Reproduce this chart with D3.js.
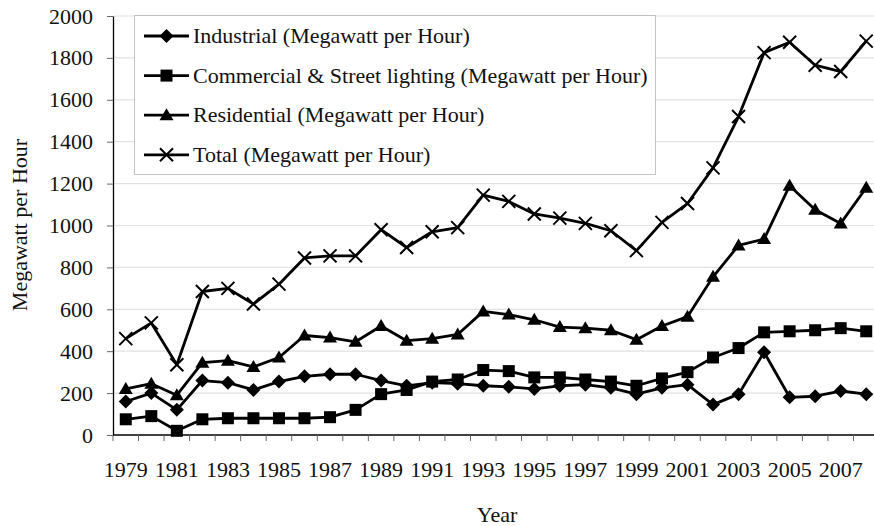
<!DOCTYPE html>
<html>
<head>
<meta charset="utf-8">
<script src="https://cdn.jsdelivr.net/npm/d3@7"></script>
<style>
  body { margin: 0; background: #fff; }
  svg { display: block; }
  text { font-family: "Liberation Serif", "Times New Roman", serif; fill: #111; }
</style>
</head>
<body>
<script>
// 年 (1979-2008)
const years = d3.range(1979, 2009);

// 各系列の値 (Megawatt per Hour)
const industrial = [160, 200, 120, 260, 250, 215, 255, 280, 290, 290, 260, 235, 250, 245, 235, 230, 220, 235, 240, 225, 195, 225, 240, 145, 195, 395, 180, 185, 210, 195];
const commercial = [75, 90, 20, 75, 80, 80, 80, 80, 85, 120, 195, 215, 255, 265, 310, 305, 275, 275, 265, 255, 235, 270, 300, 370, 415, 490, 495, 500, 510, 495];
const residential = [220, 245, 190, 345, 355, 325, 370, 475, 465, 445, 520, 450, 460, 480, 590, 575, 550, 515, 510, 500, 455, 520, 565, 755, 905, 935, 1190, 1075, 1010, 1180];
const total = [460, 535, 335, 685, 700, 625, 720, 845, 855, 855, 980, 895, 970, 990, 1145, 1115, 1055, 1035, 1010, 975, 880, 1015, 1105, 1275, 1520, 1825, 1875, 1765, 1735, 1880];

const yTicks = d3.range(0, 2001, 200);
const xLabelYears = d3.range(1979, 2008, 2);

const seriesNames = [
  "Industrial (Megawatt per Hour)",
  "Commercial & Street lighting (Megawatt per Hour)",
  "Residential (Megawatt per Hour)",
  "Total (Megawatt per Hour)"
];
const seriesValues = [industrial, commercial, residential, total];
const markers = ["diamond", "square", "triangle", "x"];

const width = 874, height = 526;
const margin = { top: 16, right: -5, bottom: 91, left: 113 };

const svg = d3.select("body").append("svg")
    .attr("width", width)
    .attr("height", height);

// スケール
const x = d3.scaleBand()
    .domain(years)
    .range([margin.left, width - margin.right])
    .padding(0);

const y = d3.scaleLinear()
    .domain([0, 2000])
    .range([height - margin.bottom, margin.top]);

// グリッド線
svg.append("g")
    .selectAll("line")
    .data(yTicks.filter(d => d > 0))
    .join("line")
      .attr("x1", margin.left)
      .attr("x2", width - margin.right)
      .attr("y1", d => y(d))
      .attr("y2", d => y(d))
      .attr("stroke", "#e2e2e2")
      .attr("stroke-width", 1.2);

// Y軸
const yAxis = svg.append("g")
    .attr("transform", `translate(${margin.left},0)`)
    .call(d3.axisLeft(y).tickValues(yTicks).tickFormat(d3.format("d"))
        .tickSize(6).tickPadding(14).tickSizeOuter(0));
yAxis.select(".domain").attr("stroke", "#000").attr("stroke-width", 1.3);
yAxis.selectAll(".tick line").attr("stroke", "#666");
yAxis.selectAll(".tick text")
    .attr("font-size", 22)
    .attr("font-family", "Liberation Serif, serif")
    .attr("fill", "#111");

// X軸 (カテゴリ境界に目盛)
const xg = svg.append("g")
    .attr("transform", `translate(0,${y(0)})`);
xg.append("line")
    .attr("x1", margin.left)
    .attr("x2", width - margin.right)
    .attr("stroke", "#000")
    .attr("stroke-width", 1.3);
xg.selectAll("line.tick")
    .data(years)
    .join("line")
      .attr("class", "tick")
      .attr("x1", d => x(d))
      .attr("x2", d => x(d))
      .attr("y1", 0)
      .attr("y2", 6)
      .attr("stroke", "#666");
xg.selectAll("text")
    .data(xLabelYears)
    .join("text")
      .attr("x", d => x(d) + x.bandwidth() / 2)
      .attr("y", 42)
      .attr("text-anchor", "middle")
      .attr("font-size", 22)
      .text(d => d);

// 軸タイトル
svg.append("text")
    .attr("x", 497)
    .attr("y", 522)
    .attr("text-anchor", "middle")
    .attr("font-size", 22)
    .text("Year");

svg.append("text")
    .attr("transform", `translate(27,${225}) rotate(-90)`)
    .attr("text-anchor", "middle")
    .attr("font-size", 22)
    .text("Megawatt per Hour");

// マーカー描画
const drawMarker = (g, type) => {
  if (type === "diamond") {
    g.append("path").attr("d", "M0,-7L7,0L0,7L-7,0Z").attr("fill", "#000");
  } else if (type === "square") {
    g.append("rect").attr("x", -6).attr("y", -6).attr("width", 12).attr("height", 12).attr("fill", "#000");
  } else if (type === "triangle") {
    g.append("path").attr("d", "M0,-7L7,5L-7,5Z").attr("fill", "#000");
  } else {
    g.append("path").attr("d", "M-6.5,-6.5L6.5,6.5M-6.5,6.5L6.5,-6.5")
        .attr("stroke", "#000").attr("stroke-width", 2).attr("fill", "none");
  }
};

const line = d3.line()
    .x((d, i) => x(years[i]) + x.bandwidth() / 2)
    .y(d => y(d));

seriesValues.forEach((vals, s) => {
  svg.append("path")
      .datum(vals)
      .attr("fill", "none")
      .attr("stroke", "#000")
      .attr("stroke-width", 2.8)
      .attr("stroke-linejoin", "round")
      .attr("d", line);

  svg.append("g")
    .selectAll("g")
    .data(vals)
    .join("g")
      .attr("transform", (d, i) => `translate(${x(years[i]) + x.bandwidth() / 2},${y(d)})`)
      .each(function() { drawMarker(d3.select(this), markers[s]); });
});

// 凡例
const legend = svg.append("g");
legend.append("rect")
    .attr("x", 134.5)
    .attr("y", 15.5)
    .attr("width", 521)
    .attr("height", 159)
    .attr("fill", "#fff")
    .attr("stroke", "#888")
    .attr("stroke-width", 1)
    .attr("stroke-dasharray", "1,1");

seriesNames.forEach((name, i) => {
  const ly = 36 + i * 39.6;
  const lg = legend.append("g");
  lg.append("line")
      .attr("x1", 144).attr("x2", 189)
      .attr("y1", ly).attr("y2", ly)
      .attr("stroke", "#000")
      .attr("stroke-width", 2.8);
  drawMarker(lg.append("g").attr("transform", `translate(166.5,${ly})`), markers[i]);
  lg.append("text")
      .attr("x", 193)
      .attr("y", ly)
      .attr("dy", "0.33em")
      .attr("font-size", 22)
      .text(name);
});
</script>
</body>
</html>
